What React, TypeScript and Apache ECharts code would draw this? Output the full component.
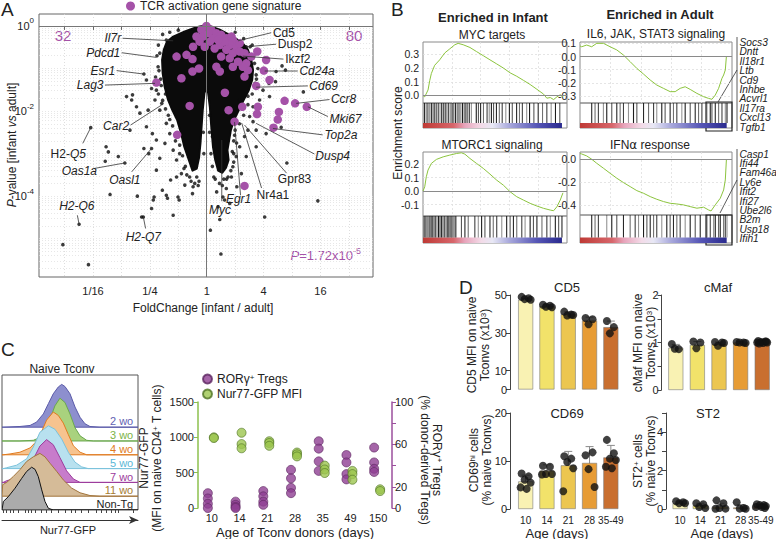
import React, { useEffect, useRef } from 'react';
import * as echarts from 'echarts';

const FONT = '"Liberation Sans", Arial, Helvetica, sans-serif';
const TXT = '#222';
const PURPLE = '#a552a8';

// ---------------- Panel A : volcano (x = log2 fold change, y = log10 P) ----------------
const FC_TICKS = [-5, -4, -3, -2, -1, 0, 1, 2, 3, 4, 5];
const FC_LABEL_VALUES = [-4, -2, 0, 2, 4];
const FC_LABELS = ['1/16', '1/4', '1', '4', '16'];
const P_LABEL_EXPONENTS = [0, -2, -4];

// outline of the dense gene cloud
const CLOUD = [
  [0, 0.02], [0.46, -0.09], [0.92, -0.25], [1.27, -0.41], [1.45, -0.56], [1.57, -0.8], [1.63, -1.04],
  [1.6, -1.27], [1.48, -1.51], [1.3, -1.74], [1.13, -1.98], [0.96, -2.21], [0.85, -2.45], [0.79, -2.68],
  [0.73, -2.92], [0.77, -3.15], [0.68, -3.33], [0.55, -3.45], [0.4, -3.4], [0.3, -3.15], [0.22, -2.84],
  [0.16, -2.37], [0.11, -1.9], [0.05, -1.58], [0, -1.43], [-0.08, -1.58], [-0.14, -1.98], [-0.18, -2.37],
  [-0.22, -2.76], [-0.27, -3.1], [-0.35, -3.35], [-0.5, -3.4], [-0.63, -3.15], [-0.79, -2.84], [-0.9, -2.53],
  [-1.04, -2.21], [-1.21, -1.98], [-1.36, -1.74], [-1.48, -1.43], [-1.55, -1.11], [-1.57, -0.8], [-1.51, -0.56],
  [-1.4, -0.37], [-1.18, -0.25], [-0.77, -0.13], [-0.36, -0.03],
];

const BLACK_POINTS = [
  [-4.08, -2.39], [-5.06, -5.14], [-4.16, -5.61], [-4.49, -4.66], [-3.4, -3.96], [-3.54, -2.84], [-3.46, -2.96],
  [-3.57, -3.18], [-3.11, -3.07], [-2.88, -3.22], [-2.7, -2.45], [-2.82, -1.66], [-2.61, -1.62], [-2.64, -1.74],
  [-2.44, -4.0], [-2.23, -4.49], [-2.29, -4.49], [-2.21, -1.13], [-2.21, -2.88], [-2.04, -3.0], [-1.94, -2.88],
  [-1.88, -4.09], [-1.85, -4.02], [-1.94, -4.29], [-1.56, -3.86], [-1.42, -3.98], [-1.38, -4.05], [-1.18, -4.45],
  [-1.01, -4.02], [-0.97, -4.09], [-0.5, -3.94], [-0.48, -3.78], [-0.27, -3.65], [-1.77, -3.39], [-1.65, -3.11],
  [-1.47, -2.76], [-1.77, -2.68], [-1.91, -2.53], [-2.12, -2.37], [-1.58, -1.82], [-1.65, -1.98], [-1.82, -1.74],
  [-1.77, -1.51], [-1.94, -1.47], [-2.12, -1.27], [-1.42, -2.29], [-1.3, -2.53], [-1.18, -2.92], [-1.06, -3.15],
  [-0.89, -3.47], [-1.06, -3.55], [-1.27, -3.62], [-0.77, -3.74], [-2.06, -1.98], [-2.47, -1.9], [-2.35, -2.05],
  [-0.6, -3.55], [-0.35, -3.55], [-0.42, -3.7], [-0.75, -3.3], [-0.95, -3.0], [-1.1, -2.7], [-1.3, -2.2],
  [0.13, -4.8], [0.46, -4.55], [0.5, -5.36], [2.04, -4.49], [3.91, -4.11], [2.82, -3.22], [2.62, -2.38],
  [3.4, -1.55], [2.77, -1.04], [2.65, -0.94], [2.44, -1.07], [1.39, -0.49], [2.19, -1.35], [1.98, -1.51],
  [1.86, -1.74], [1.63, -1.9], [1.51, -2.13], [1.63, -2.25], [1.45, -2.45], [1.33, -2.6], [1.16, -2.84],
  [1.04, -3.07], [0.92, -3.31], [0.87, -3.55], [0.69, -3.82], [0.63, -4.09], [0.57, -4.02], [1.06, -3.78],
  [1.22, -3.47], [1.39, -3.07], [2.09, -2.53], [1.74, -2.84], [0.81, -4.17], [0.4, -4.25], [0.98, -2.57],
  [2.21, -1.66], [2.42, -1.31], [1.74, -2.45], [0.3, -3.6], [0.45, -3.7], [0.6, -3.6], [0.95, -3.0],
  [1.05, -2.75], [0.2, -3.3], [0.35, -3.9], [0.75, -3.55],
  [-1.65, -0.64], [-1.71, -0.96], [-1.42, -0.33], [1.68, -0.88], [1.74, -1.15], [1.53, -0.49], [1.16, -1.74],
  [-1.62, -1.25], [-1.45, -1.6], [1.7, -1.35], [1.45, -1.65], [1.25, -1.9],
  [-1.7, -0.45], [-1.75, -0.7], [-1.68, -1.05], [-1.8, -1.2], [-1.6, -1.4], [-1.7, -1.6], [-1.55, -1.75],
  [-1.45, -1.95], [-1.35, -2.1], [-1.2, -2.35], [-1.05, -2.6], [-0.95, -2.8], [-0.85, -3.05], [-0.8, -3.35],
  [-0.7, -3.5], [-0.55, -3.65], [-0.3, -3.75], [-1.55, -0.2], [-1.3, -0.15], [-1.0, -0.1],
  [1.0, -0.15], [1.3, -0.3], [1.6, -0.45], [1.72, -0.65], [1.8, -1.0], [1.75, -1.25], [1.6, -1.6],
  [1.45, -1.85], [1.3, -2.1], [1.15, -2.3], [1.0, -2.45], [0.95, -2.7], [0.9, -2.95], [0.95, -3.2],
  [0.85, -3.4], [0.7, -3.6], [0.55, -3.75], [0.25, -3.55], [0.15, -3.0], [0.1, -2.5],
  [0.1, -2.1], [-0.12, -2.5], [-0.1, -3.0], [0.2, -2.6],
];

const TCR_POINTS = [
  [-0.01, 0], [-0.19, -0.09], [0.16, -0.09], [0.34, -0.17], [-0.36, -0.25], [-0.13, -0.25], [0.22, -0.29],
  [0.51, -0.21], [0.69, -0.29], [0.92, -0.33], [0.81, -0.45], [1.04, -0.49], [0.46, -0.45], [0.69, -0.56],
  [0.92, -0.64], [1.16, -0.6], [1.33, -0.64], [1.39, -0.88], [1.45, -1.04], [1.33, -1.19], [1.27, -0.96],
  [1.1, -0.84], [0.81, -0.76], [0.51, -0.72], [0.34, -0.96], [0.46, -1.07], [0.92, -0.96], [-0.48, -0.49],
  [-0.71, -0.68], [-1.06, -0.72], [-0.5, -0.78], [-0.27, -1.0], [-0.5, -1.07], [-0.89, -1.23], [-1.77, -1.33],
  [1.78, -0.6], [1.57, -0.72], [2.09, -0.8], [2.01, -1.05], [2.21, -1.27], [1.74, -1.41], [2.74, -1.76],
  [3.11, -1.82], [3.52, -1.9], [2.5, -2.2], [1.8, -1.9], [1.77, -2.07], [1.25, -1.9], [0.77, -1.98],
  [0.64, -1.57], [0.98, -2.25], [-0.6, -1.88], [-1.04, -2.56], [1.33, -3.76], [2.35, -2.39], [2.54, -2.02],
  [0.05, -0.17], [-0.25, -0.37], [0.11, -0.37], [-0.07, -0.49], [0.28, -0.53], [0.63, -0.37], [1.16, -0.41],
  [0.87, -0.25], [0.4, -0.33],
];

// gene annotations: point (x,y), leader end (lx,ly), text anchor (tx,ty), alignment
const GENE_LABELS = [
  { t: '{i|Il7r}', x: -1.18, y: -0.35, lx: -2.96, ly: -0.29, tx: -3.01, ty: -0.29, a: 'right' },
  { t: '{i|Pdcd1}', x: -1.77, y: -0.74, lx: -2.99, ly: -0.63, tx: -3.04, ty: -0.63, a: 'right' },
  { t: '{i|Esr1}', x: -2.23, y: -1.13, lx: -3.17, ly: -1.05, tx: -3.22, ty: -1.05, a: 'right' },
  { t: '{i|Lag3}', x: -1.82, y: -1.35, lx: -3.58, ly: -1.39, tx: -3.63, ty: -1.39, a: 'right' },
  { t: '{i|Car2}', x: -1.59, y: -1.86, lx: -2.68, ly: -2.33, tx: -2.73, ty: -2.35, a: 'right' },
  { t: '{n|H2-}{i|Q5}', x: -4.08, y: -2.39, lx: -4.36, ly: -2.76, tx: -4.87, ty: -3.0, a: 'center' },
  { t: '{i|Oas1a}', x: -2.88, y: -3.22, lx: -3.96, ly: -3.35, tx: -4.48, ty: -3.4, a: 'center' },
  { t: '{i|Oasl1}', x: -1.94, y: -2.88, lx: -2.64, ly: -3.43, tx: -2.88, ty: -3.62, a: 'center' },
  { t: '{i|H2-Q6}', x: -4.49, y: -4.66, lx: -4.55, ly: -4.45, tx: -4.57, ty: -4.23, a: 'center' },
  { t: '{i|H2-Q7}', x: -2.23, y: -4.49, lx: -2.15, ly: -4.76, tx: -2.23, ty: -4.96, a: 'center' },
  { t: '{n|Cd5}', x: 1.1, y: -0.35, lx: 2.27, ly: -0.16, tx: 2.33, ty: -0.16, a: 'left' },
  { t: '{n|Dusp2}', x: 1.39, y: -0.49, lx: 2.44, ly: -0.43, tx: 2.5, ty: -0.43, a: 'left' },
  { t: '{n|Ikzf2}', x: 1.27, y: -0.71, lx: 2.7, ly: -0.78, tx: 2.76, ty: -0.78, a: 'left' },
  { t: '{i|Cd24a}', x: 2.04, y: -1.06, lx: 3.2, ly: -1.06, tx: 3.26, ty: -1.07, a: 'left' },
  { t: '{i|Cd69}', x: 1.74, y: -1.44, lx: 3.56, ly: -1.41, tx: 3.61, ty: -1.41, a: 'left' },
  { t: '{i|Ccr8}', x: 3.15, y: -1.82, lx: 4.32, ly: -1.73, tx: 4.37, ty: -1.72, a: 'left' },
  { t: '{i|Mki67}', x: 3.56, y: -1.9, lx: 4.26, ly: -2.13, tx: 4.32, ty: -2.19, a: 'left' },
  { t: '{i|Top2a}', x: 2.33, y: -2.41, lx: 4.08, ly: -2.56, tx: 4.14, ty: -2.56, a: 'left' },
  { t: '{i|Dusp4}', x: 1.74, y: -2.29, lx: 3.79, ly: -3.01, tx: 3.82, ty: -3.06, a: 'left' },
  { t: '{n|Gpr83}', x: 1.33, y: -2.33, lx: 2.81, ly: -3.46, tx: 3.09, ty: -3.6, a: 'center' },
  { t: '{n|Nr4a1}', x: 1.23, y: -2.28, lx: 1.93, ly: -3.81, tx: 2.33, ty: -3.98, a: 'center' },
  { t: '{i|Egr1}', x: 0.98, y: -2.26, lx: 1.19, ly: -3.98, tx: 1.12, ty: -4.07, a: 'center' },
  { t: '{i|Myc}', x: 0.53, y: -2.68, lx: 0.53, ly: -4.12, tx: 0.47, ty: -4.33, a: 'center' },
];

// ---------------- Panel B : GSEA ----------------
const MYC_ES = [[0, 0], [1.2, -0.01], [3.5, 0.04], [4.7, 0.11], [5.8, 0.16], [8.1, 0.22], [11.6, 0.26], [15.1, 0.31],
  [18.6, 0.34], [22.1, 0.37], [24.4, 0.38], [27.9, 0.37], [32.6, 0.35], [37.2, 0.32], [41.9, 0.29], [46.5, 0.26],
  [51.2, 0.23], [55.8, 0.2], [60.5, 0.165], [65.1, 0.14], [69.8, 0.11], [74.4, 0.08], [79.1, 0.045], [83.7, 0.01],
  [86, -0.02], [88.4, -0.015], [90.7, -0.03], [93, -0.01], [95.3, 0.005], [97.2, -0.01]];
const MYC_HITS = [1, 2.2, 3.4, 4.6, 5.8, 7, 8.2, 9.4, 10.6, 11.8, 13, 14.2, 15.4, 16.6, 17.8, 19, 20.2, 21.4, 22.6,
  23.8, 25, 26.2, 27.4, 28.6, 29.8, 31, 32.2, 33.6, 37, 38.5, 40, 42, 44.5, 46, 47.5, 49, 51, 53, 55, 57.5, 60, 62,
  65, 67, 69, 72, 74, 77, 80, 83, 86, 89, 92, 95];

const IL6_ES = [[0, 0.08], [1.1, 0.074], [4.4, 0.087], [7.7, 0.074], [11, 0.1], [15.4, 0.1], [19.8, 0.074], [24.2, 0.05],
  [28.6, 0.011], [33, -0.039], [37.4, -0.09], [41.8, -0.133], [46.2, -0.178], [50.5, -0.216], [54.9, -0.241],
  [59.3, -0.266], [62.6, -0.266], [65.9, -0.241], [69.2, -0.229], [72.5, -0.249], [76.9, -0.279], [81.3, -0.304],
  [84.6, -0.317], [86.8, -0.324], [89, -0.292], [91.2, -0.241], [93.4, -0.165], [94.5, -0.14], [95.6, -0.102], [96.3, 0]];
const IL6_HITS = [7.7, 9.9, 12.1, 15.4, 17.6, 20.9, 24.2, 26.4, 28.6, 31.9, 35.2, 37.4, 41.8, 45.1, 48.4, 50.5, 53.8,
  56, 59.3, 61.5, 63.7, 67, 69.2, 72.5, 75.8, 78, 80.2, 83.5, 85.7, 86.8, 89, 91.2, 93.4, 95.6, 96.7];

const MTORC1_ES = [[0, 0], [1.2, 0.032], [2.3, 0.106], [3.5, 0.156], [5.8, 0.205], [9.3, 0.235], [14, 0.254],
  [18.6, 0.267], [23.3, 0.279], [26.7, 0.284], [29.1, 0.274], [32.6, 0.242], [37.2, 0.205], [41.9, 0.168],
  [46.5, 0.126], [51.2, 0.081], [55.8, 0.044], [60.5, -0.005], [65.1, -0.042], [69.8, -0.067], [74.4, -0.091],
  [79.1, -0.111], [83.7, -0.128], [88.4, -0.141], [90.7, -0.146], [93, -0.116], [95.3, -0.067], [97.2, -0.013]];
const MTORC1_HITS = [0.8, 1.8, 2.8, 3.8, 4.8, 5.8, 6.8, 7.8, 8.8, 9.8, 10.8, 11.8, 12.8, 13.8, 14.8, 15.8, 16.8, 17.8,
  18.8, 19.8, 20.8, 21.8, 22.8, 26.7, 29.1, 31.4, 36, 38.4, 40.7, 43, 46.5, 48.8, 51.2, 54.7, 58.1, 60.5, 62.8, 65.1,
  68.6, 70.9, 74.4, 76.7, 79.1, 82.6, 86, 88.4, 91.9, 94.2, 96.5];

const IFN_ES = [[0, 0.05], [1.1, 0.046], [4.4, 0.029], [7.7, 0], [11, -0.035], [15.4, -0.078], [19.8, -0.122],
  [24.2, -0.165], [28.6, -0.203], [33, -0.238], [37.4, -0.273], [41.8, -0.296], [46.2, -0.325], [50.5, -0.348],
  [54.9, -0.368], [59.3, -0.383], [63.7, -0.389], [68.1, -0.397], [72.5, -0.412], [76.9, -0.426], [81.3, -0.417],
  [84.6, -0.441], [86.2, -0.45], [89, -0.397], [92.3, -0.339], [94.5, -0.267], [95.6, -0.18], [96.3, -0.006]];
const IFN_HITS = [7.7, 9.9, 12.1, 17.6, 20.9, 24.2, 28.6, 33, 36.3, 38.5, 41.8, 44, 46.2, 48.4, 50.5, 53.8, 57.1,
  59.3, 61.5, 63.7, 65.9, 69.2, 72.5, 75.8, 79.1, 83.5, 85.7, 87.9, 89, 91.2, 92.3, 94.5, 95.6, 96.7];

const IL6_GENES = ['Socs3', 'Dntt', 'Il18r1', 'Ltb', 'Cd9', 'Inhbe', 'Acvrl1', 'Il17ra', 'Cxcl13', 'Tgfb1'];
const IFN_GENES = ['Casp1', 'Ifi44', 'Fam46a', 'Ly6e', 'Ifit2', 'Ifi27', 'Ube2l6', 'B2m', 'Usp18', 'Ifih1'];

// ---------------- Panel C : histograms ----------------
const HIST_NAMES = ['2 wo', '3 wo', '4 wo', '5 wo', '7 wo', '11 wo', 'Non-Tg'];
const HIST_FILL = ['#8d8fce', '#a9d27e', '#f6c38f', '#b8e1ef', '#c77ccb', '#d5bb98', '#ababab'];
const HIST_LINE = ['#5a5aa8', '#6aa84f', '#e07b20', '#7cc3dc', '#9c3c9c', '#a2753c', '#111111'];
const HIST_LABEL = ['#6262b3', '#7bb347', '#e07b20', '#5bb8d6', '#9c3b9c', '#a67c30', '#222222'];
const HIST_OFFSET = [6, 5, 4, 3, 2, 1, 0];
const HIST_CURVES = [
  [[1, 0], [13.2, 0.016], [20.6, 0.04], [25.5, 0.12], [30.4, 0.31], [34.1, 0.55], [37.7, 0.78], [41.4, 0.94], [43.9, 1], [46.3, 0.95], [50, 0.78], [53.7, 0.47], [57.4, 0.23], [61, 0.08], [64.7, 0.016], [72, 0]],
  [[13.2, 0], [23, 0.016], [27.9, 0.08], [31.6, 0.23], [35.3, 0.51], [38.9, 0.82], [42.6, 1], [46.3, 0.9], [50, 0.63], [53.7, 0.31], [57.4, 0.12], [62.3, 0.016], [67.2, 0]],
  [[1, 0], [5.9, 0.02], [13.2, 0.06], [20.6, 0.16], [25.5, 0.32], [29.2, 0.55], [32.8, 0.81], [37.7, 1], [41.4, 0.92], [45.1, 0.74], [48.8, 0.47], [52.5, 0.21], [57.4, 0.06], [62.3, 0]],
  [[1, 0], [3.4, 0.02], [10.8, 0.08], [18.1, 0.23], [23, 0.5], [27.9, 0.85], [34.1, 1], [38.9, 0.92], [43.9, 0.69], [48.8, 0.38], [53.7, 0.15], [58.6, 0.04], [63.4, 0]],
  [[1, 0], [3.4, 0.04], [10.8, 0.1], [18.1, 0.27], [23, 0.54], [27.9, 0.85], [32.8, 1], [37.7, 0.88], [42.6, 0.58], [47.5, 0.27], [52.5, 0.08], [57.4, 0]],
  [[0, 0], [0.5, 0.27], [3.4, 0.32], [8.3, 0.46], [13.2, 0.62], [18.1, 0.81], [23, 0.92], [27.9, 1], [31.6, 0.92], [35.3, 0.77], [40.2, 0.58], [45.1, 0.38], [51.2, 0.19], [57.4, 0.08], [64.7, 0.015], [72, 0]],
  [[0, 0], [1, 0.2], [4.6, 0.31], [9.6, 0.51], [14.5, 0.74], [18.1, 0.9], [21.8, 1], [24.3, 0.95], [26.7, 0.78], [29.2, 0.47], [31.6, 0.2], [34.1, 0.04], [37.7, 0]],
];
const HIST_TICKS = [1, 3.4, 5.9, 8.3, 12, 16.9, 19.4, 21.8, 24.3, 29.2, 32.8, 36.5, 41.4, 46.3, 51.2, 53.7, 58.6, 63.4, 69.6, 73.3, 76.9, 80.6, 83.1, 85.5, 96.6];

// ---------------- Panel C : Nur77 / RORg scatter ----------------
const DONOR_AGES = ['10', '14', '21', '28', '35', '49', '150'];
const ROR_VALUES = [[14, 9, 4, 0], [6, 3, 1, 0], [16, 11, 6, 3], [36, 28, 19, 14], [63, 56, 44, 35], [50, 43, 32, 27], [57, 43, 37, 34]];
const NUR_VALUES = [[1000, 990], [1065, 905, 845], [945, 920, 880], [785, 760, 730], [600, 545, 495], [525, 480, 400], [265, 240]];

// ---------------- Panel D : bars ----------------
const AGE_CATS = ['10', '14', '21', '28', '35-49'];
const BAR_COLORS = ['#f9f2b3', '#f2e26a', '#ecc650', '#e79c35', '#c96f2f'];
const CD5_MEAN = [47.5, 44.1, 39.9, 36.5, 33.0];
const CD5_SD = [0.7, 0.6, 1.2, 1.8, 3.2];
const CD5_PTS = [[49, 48.3, 47.8, 47.5], [44.8, 44.3, 43.8, 43.5], [41.2, 39.6, 39.2, 39.4], [37.8, 37.2, 34.5], [36.2, 33, 29.7]];
const CMAF_MEAN = [0.89, 0.95, 0.97, 1.0, 1.01];
const CMAF_SD = [0.07, 0.07, 0.04, 0.02, 0.03];
const CMAF_PTS = [[0.97, 0.86, 0.87], [1.02, 1.0, 0.88], [1.01, 1.0, 0.93, 0.99], [1.01, 1.0, 1.0, 0.99], [1.03, 1.02, 1.01, 1.0, 1.0, 0.99, 1.02, 0.98]];
const CD69_MEAN = [5.75, 8.0, 9.1, 9.6, 10.75];
const CD69_SD = [1.3, 1.2, 2.9, 3.4, 2.5];
const CD69_PTS = [[7.4, 6.8, 6.1, 5.5, 4.5, 4.2], [9.0, 8.8, 7.3, 7.3, 7.2], [11, 10.5, 9.8, 8.5, 3.7], [11.2, 11.8, 8.3, 4.6], [14.4, 11.6, 10.5, 10.2, 8.8, 8.5]];
const ST2_MEAN = [0.3, 0.2, 0.12, 0.08, 0.15];
const ST2_SD = [0.06, 0.1, 0.18, 0.14, 0.07];
const ST2_PTS = [[0.4, 0.35, 0.3, 0.3], [0.3, 0.25, 0.1, 0.05], [0.45, 0.3, 0.05, 0.02, 0.01], [0.35, 0.05, 0.02, 0.01], [0.25, 0.2, 0.2, 0.15, 0.1, 0.1, 0.05]];
const JITTER = [-4, 3, -1, 5, -5, 1, 4, -3];

function buildOption() {
  const grids: any[] = [];
  const xAxes: any[] = [];
  const yAxes: any[] = [];
  const series: any[] = [];
  const graphic: any[] = [];
  const addGrid = (g: any) => { grids.push({ containLabel: false, ...g }); return grids.length - 1; };
  const addX = (a: any) => { xAxes.push(a); return xAxes.length - 1; };
  const addY = (a: any) => { yAxes.push(a); return yAxes.length - 1; };
  const lab = (o: any = {}) => ({ fontSize: 11, color: TXT, fontFamily: FONT, ...o });

  const text = (t: string, x: number, y: number, o: any = {}) => {
    const { rotation, ...st } = o;
    return {
      type: 'text', x, y, rotation: rotation || 0, silent: true,
      style: { text: t, fill: TXT, fontSize: 12, fontFamily: FONT, align: 'center', verticalAlign: 'middle', ...st },
    };
  };
  const gline = (x1: number, y1: number, x2: number, y2: number, stroke = '#333', lw = 0.8) => ({
    type: 'line', silent: true, shape: { x1, y1, x2, y2 }, style: { stroke, lineWidth: lw },
  });

  // ===== Panel A =====
  const pGrid: number[] = [];
  for (let e = 0; e >= -6; e--) for (let k = 1; k <= 9; k++) {
    const v = e + Math.log10(k);
    if (v <= 0.28 && v >= -5.9) pGrid.push(v);
  }
  const gA = addGrid({ left: 39, top: 14, width: 334, height: 263, show: true, borderColor: '#666', borderWidth: 1 });
  const xA = addX({
    type: 'value', gridIndex: gA, min: -5.9, max: 5.85, axisLine: { show: false },
    axisTick: { show: true, customValues: FC_TICKS, length: 4, lineStyle: { color: '#666' } },
    axisLabel: lab({ customValues: FC_LABEL_VALUES, margin: 8, formatter: (v: number) => FC_LABELS[FC_LABEL_VALUES.indexOf(Math.round(v))] }),
    splitLine: { show: true, lineStyle: { color: '#d6d6d6', type: [1, 2], width: 0.8 } },
  });
  const yA = addY({
    type: 'value', gridIndex: gA, min: -5.9, max: 0.28, axisLine: { show: false },
    axisTick: { show: false, customValues: pGrid },
    axisLabel: lab({
      customValues: P_LABEL_EXPONENTS, margin: 5,
      formatter: (v: number) => `{b|10}{s|${Math.round(v)}}`,
      rich: { b: { fontSize: 11, lineHeight: 18, fontFamily: FONT, color: TXT }, s: { fontSize: 8, lineHeight: 9, verticalAlign: 'top', fontFamily: FONT, color: TXT } },
    }),
    splitLine: { show: true, lineStyle: { color: '#dcdcdc', type: [1, 2], width: 0.7 } },
  });
  series.push({
    type: 'custom', xAxisIndex: xA, yAxisIndex: yA, silent: true, clip: true, data: [[0, 0]],
    renderItem: (_p: any, api: any) => ({
      type: 'polygon', shape: { points: CLOUD.map((c) => api.coord(c)) }, style: { fill: '#0b0b0b', stroke: '#0b0b0b', lineWidth: 2, lineJoin: 'round' },
    }),
    markLine: {
      silent: true, symbol: 'none', label: { show: false }, animation: false,
      lineStyle: { color: '#777', type: 'solid', width: 1 }, data: [{ xAxis: 0 }, { yAxis: 0 }],
    },
    z: 2,
  });
  series.push({
    type: 'scatter', name: 'black', xAxisIndex: xA, yAxisIndex: yA, data: BLACK_POINTS, symbolSize: 3.6,
    itemStyle: { color: '#0b0b0b' }, silent: true, z: 3,
  });
  series.push({
    type: 'scatter', name: 'TCR activation gene signature', xAxisIndex: xA, yAxisIndex: yA, data: TCR_POINTS,
    symbolSize: 8.5, itemStyle: { color: PURPLE, opacity: 1 }, silent: true, z: 4,
  });
  series.push({
    type: 'custom', xAxisIndex: xA, yAxisIndex: yA, silent: true, clip: false, z: 5,
    data: GENE_LABELS.map((g) => [g.x, g.y]),
    renderItem: (params: any, api: any) => {
      const g = GENE_LABELS[params.dataIndex];
      const p = api.coord([g.x, g.y]);
      const l = api.coord([g.lx, g.ly]);
      const t = api.coord([g.tx, g.ty]);
      return {
        type: 'group', children: [
          { type: 'line', shape: { x1: p[0], y1: p[1], x2: l[0], y2: l[1] }, style: { stroke: '#333', lineWidth: 0.8 } },
          {
            type: 'text', x: t[0], y: t[1], style: {
              text: g.t, align: g.a, verticalAlign: 'middle', fill: TXT, fontSize: 12, fontFamily: FONT,
              rich: {
                i: { fontStyle: 'italic', fontSize: 12, fontFamily: FONT, fill: TXT },
                n: { fontSize: 12, fontFamily: FONT, fill: TXT },
              },
            },
          },
        ],
      };
    },
  });
  graphic.push(text('32', 63, 35, { fill: PURPLE, fontSize: 15 }));
  graphic.push(text('80', 354, 35, { fill: PURPLE, fontSize: 15 }));
  graphic.push(text('{i|P}{n|=1.72x10}{s|-5}', 361, 255, {
    align: 'right', fill: PURPLE,
    rich: {
      i: { fontStyle: 'italic', fontSize: 13, fill: PURPLE, fontFamily: FONT, lineHeight: 18 },
      n: { fontSize: 13, fill: PURPLE, fontFamily: FONT, lineHeight: 18 },
      s: { fontSize: 9, fill: PURPLE, fontFamily: FONT, lineHeight: 10, verticalAlign: 'top' },
    },
  }));
  graphic.push(text('{i|P}{n|-value [infant }{i|vs}{n| adult]}', 12, 145, {
    rotation: Math.PI / 2,
    rich: { i: { fontStyle: 'italic', fontSize: 12, fontFamily: FONT, fill: TXT }, n: { fontSize: 12, fontFamily: FONT, fill: TXT } },
  }));
  graphic.push(text('FoldChange [infant / adult]', 203, 308, { fontSize: 12 }));

  // ===== Panel B =====
  const barStops = [
    { offset: 0, color: '#bf3a35' }, { offset: 0.22, color: '#d7666b' }, { offset: 0.3, color: '#e7a4bb' },
    { offset: 0.42, color: '#f3dbe8' }, { offset: 0.5, color: '#e8e8f5' }, { offset: 0.62, color: '#a9a9dc' },
    { offset: 0.82, color: '#5656b6' }, { offset: 1, color: '#2a2a8e' },
  ];
  const gsea = (left: number, top: number, width: number, esH: number, hitH: number, es: number[][], hits: number[],
    yMin: number, yMax: number, yLabels: number[]) => {
    const g1 = addGrid({ left, top, width, height: esH, show: true, borderColor: '#8a8a8a', borderWidth: 1 });
    const xi = addX({
      type: 'value', gridIndex: g1, min: 0, max: 100, axisLine: { show: false },
      axisTick: { show: false, customValues: [20, 40, 60, 80] }, axisLabel: { show: false },
      splitLine: { show: true, lineStyle: { color: '#dedede', type: [2, 2], width: 0.8 } },
    });
    const yi = addY({
      type: 'value', gridIndex: g1, min: yMin, max: yMax, axisLine: { show: false },
      axisTick: { show: false, customValues: yLabels },
      axisLabel: lab({ customValues: yLabels, margin: 4, fontSize: 10.5, formatter: (v: number) => (Math.abs(v) < 1e-9 ? '0.0' : v.toFixed(1)) }),
      splitLine: { show: true, lineStyle: { color: '#dedede', type: [2, 2], width: 0.8 } },
    });
    series.push({
      type: 'line', xAxisIndex: xi, yAxisIndex: yi, data: es, symbol: 'none', silent: true,
      lineStyle: { color: '#8cc43e', width: 1 },
      markLine: { silent: true, symbol: 'none', label: { show: false }, lineStyle: { color: '#8a8a8a', type: 'solid', width: 1 }, data: [{ yAxis: 0 }] },
    });
    const g2 = addGrid({ left, top: top + esH, width, height: hitH, show: true, borderColor: '#8a8a8a', borderWidth: 1 });
    const xh = addX({ type: 'value', gridIndex: g2, min: 0, max: 100, show: false });
    const yh = addY({ type: 'value', gridIndex: g2, min: 0, max: 1, show: false });
    series.push({
      type: 'custom', xAxisIndex: xh, yAxisIndex: yh, silent: true, data: [[0, 0]],
      renderItem: (_p: any, api: any) => {
        const a = api.coord([0, 0.2]);
        const b = api.coord([96.5, 0]);
        return {
          type: 'rect', shape: { x: a[0], y: a[1], width: b[0] - a[0], height: b[1] - a[1] },
          style: { fill: { type: 'linear', x: 0, y: 0, x2: 1, y2: 0, colorStops: barStops } },
        };
      },
    });
    series.push({
      type: 'custom', xAxisIndex: xh, yAxisIndex: yh, silent: true, data: hits.map((h) => [h, 0]),
      renderItem: (params: any, api: any) => {
        const t = api.coord([api.value(0), 1]);
        const b = api.coord([api.value(0), 0.2]);
        const op = [0.9, 0.6, 0.8, 0.45, 0.95, 0.7][params.dataIndex % 6];
        return { type: 'line', shape: { x1: t[0], y1: t[1], x2: b[0], y2: b[1] }, style: { stroke: '#111', lineWidth: 1.1, opacity: op } };
      },
    });
  };
  gsea(423, 42, 144, 61, 25, MYC_ES, MYC_HITS, -0.055, 0.39, [0, 0.1, 0.2, 0.3]);
  gsea(580, 42, 152, 61, 25, IL6_ES, IL6_HITS, -0.352, 0.11, [-0.3, -0.2, -0.1, 0, 0.1]);
  gsea(423, 152, 144, 64, 27, MTORC1_ES, MTORC1_HITS, -0.185, 0.29, [-0.1, 0, 0.1, 0.2]);
  gsea(580, 152, 152, 63, 28, IFN_ES, IFN_HITS, -0.485, 0.063, [-0.4, -0.2, 0]);

  graphic.push(text('Enriched in Infant', 493, 17, { fontWeight: 'bold', fontSize: 13 }));
  graphic.push(text('Enriched in Adult', 660, 14, { fontWeight: 'bold', fontSize: 13 }));
  graphic.push(text('MYC targets', 492, 35, { fontSize: 12 }));
  graphic.push(text('IL6, JAK, STAT3 signaling', 656, 34, { fontSize: 12 }));
  graphic.push(text('MTORC1 signaling', 492, 145, { fontSize: 12 }));
  graphic.push(text('IFN{g|α} response', 650, 145, { fontSize: 12, rich: { g: { fontSize: 12, fontFamily: 'DejaVu Sans', fill: TXT } } }));
  graphic.push(text('Enrichment score', 398, 133, { fontSize: 12, rotation: Math.PI / 2 }));
  graphic.push(text(IL6_GENES.join('\n'), 739.5, 37.5, { align: 'left', verticalAlign: 'top', fontStyle: 'italic', fontSize: 10.2, lineHeight: 9.45 }));
  graphic.push(text(IFN_GENES.join('\n'), 739.5, 149.5, { align: 'left', verticalAlign: 'top', fontStyle: 'italic', fontSize: 10.2, lineHeight: 9.37 }));
  graphic.push(gline(737, 37, 737, 131, '#333', 0.8));
  graphic.push(gline(737, 149, 737, 243, '#333', 0.8));
  graphic.push({ type: 'rect', silent: true, shape: { x: 706, y: 102, width: 26, height: 29 }, style: { fill: 'none', stroke: '#222', lineWidth: 1.2 } });
  graphic.push({ type: 'rect', silent: true, shape: { x: 706, y: 215, width: 26, height: 30 }, style: { fill: 'none', stroke: '#222', lineWidth: 1.2 } });
  graphic.push(gline(718, 102, 737, 70, '#333', 0.8));
  graphic.push(gline(720, 213, 737, 180, '#333', 0.8));

  // ===== Panel C : histograms =====
  const PEAK = 3.1;
  const gH = addGrid({ left: 2, top: 375, width: 136, height: 135, show: true, borderColor: '#555', borderWidth: 1 });
  const xH = addX({
    type: 'value', gridIndex: gH, min: 0, max: 100, axisLine: { show: false },
    axisTick: { show: true, customValues: HIST_TICKS, length: 3, lineStyle: { color: '#444' } },
    axisLabel: { show: false }, splitLine: { show: false },
  });
  addX({
    type: 'value', gridIndex: gH, min: 0, max: 100, position: 'bottom', offset: 10,
    axisLine: { show: true, symbol: ['none', 'arrow'], symbolSize: [6, 9], lineStyle: { color: '#333', width: 1 } },
    axisTick: { show: false }, axisLabel: { show: false }, splitLine: { show: false },
  });
  const yH = addY({ type: 'value', gridIndex: gH, min: 0, max: 9.78, show: false });
  series.push({
    type: 'custom', xAxisIndex: xH, yAxisIndex: yH, silent: true, clip: true,
    data: HIST_NAMES.map((_n, i) => [0, HIST_OFFSET[i]]),
    renderItem: (params: any, api: any) => {
      const i = params.dataIndex;
      const off = HIST_OFFSET[i];
      const pts = [api.coord([0, off])]
        .concat(HIST_CURVES[i].map((c) => api.coord([c[0], off + c[1] * PEAK])))
        .concat([api.coord([100, off])]);
      const lp = api.coord([96.5, off + 0.42]);
      return {
        type: 'group', children: [
          { type: 'polygon', shape: { points: pts }, style: { fill: HIST_FILL[i], stroke: HIST_LINE[i], lineWidth: 1 } },
          { type: 'text', x: lp[0], y: lp[1], style: { text: HIST_NAMES[i], align: 'right', verticalAlign: 'middle', fill: HIST_LABEL[i], fontSize: 11, fontFamily: FONT } },
        ],
      };
    },
  });
  graphic.push(text('Naive Tconv', 62, 369, { fontSize: 12 }));
  graphic.push(text('Nur77-GFP', 68, 530, { fontSize: 11 }));

  // ===== Panel C : scatter =====
  const gS = addGrid({ left: 198, top: 402, width: 194, height: 106 });
  const xS = addX({
    type: 'category', gridIndex: gS, data: DONOR_AGES, axisLine: { show: false }, axisTick: { show: false },
    axisLabel: lab({ fontSize: 11, margin: 4, interval: 0 }),
  });
  const yL = addY({
    type: 'value', gridIndex: gS, min: 0, max: 1500, interval: 500, position: 'left',
    axisLine: { show: true, lineStyle: { color: '#8dc04e', width: 1.5 } },
    axisTick: { show: true, length: 4, lineStyle: { color: '#8dc04e' } },
    axisLabel: lab({ margin: 4, formatter: (v: number) => String(v) }), splitLine: { show: false },
  });
  const yR = addY({
    type: 'value', gridIndex: gS, min: 0, max: 100, position: 'right',
    axisLine: { show: true, lineStyle: { color: '#9b4f9d', width: 1.5 } },
    axisTick: { show: true, customValues: [0, 20, 40, 60, 80, 100], length: 4, lineStyle: { color: '#9b4f9d' } },
    axisLabel: lab({ customValues: [0, 20, 60, 100], margin: 3 }), splitLine: { show: false },
  });
  series.push({
    type: 'scatter', name: 'RORγ+ Tregs', xAxisIndex: xS, yAxisIndex: yR, symbolSize: 9, symbolOffset: [-4, 0],
    data: ROR_VALUES.flatMap((vs, i) => vs.map((v) => [i, v])),
    itemStyle: { color: '#8e3f92', borderColor: '#5d2760', borderWidth: 0.8 }, silent: true,
  });
  series.push({
    type: 'scatter', name: 'Nur77-GFP MFI', xAxisIndex: xS, yAxisIndex: yL, symbolSize: 9, symbolOffset: [2, 0],
    data: NUR_VALUES.flatMap((vs, i) => vs.map((v) => [i, v])),
    itemStyle: { color: '#9cc54f', borderColor: '#4f7324', borderWidth: 0.8 }, silent: true,
  });
  graphic.push(text('Nur77-GFP', 144, 458, { rotation: Math.PI / 2, fontSize: 12 }));
  graphic.push(text('(MFI on naive CD4{s|+} T cells)', 157, 458, {
    rotation: Math.PI / 2, fontSize: 12,
    rich: { s: { fontSize: 8, verticalAlign: 'top', lineHeight: 9, fontFamily: FONT, fill: TXT } },
  }));
  graphic.push(text('ROR{g|γ}{s|+} Tregs', 437, 460, {
    rotation: -Math.PI / 2, fontSize: 12,
    rich: { s: { fontSize: 8, verticalAlign: 'top', lineHeight: 9, fontFamily: FONT, fill: TXT }, g: { fontSize: 12, fontFamily: 'DejaVu Sans', fill: TXT } },
  }));
  graphic.push(text('(% donor-derived Tregs)', 425, 460, { rotation: -Math.PI / 2, fontSize: 12 }));
  graphic.push(text('Age of Tconv donors (days)', 295, 532, { fontSize: 13 }));

  // ===== Panel D =====
  const barPanel = (left: number, top: number, width: number, height: number, yMax: number, ticks: number[],
    labels: number[], mean: number[], sd: number[], pts: number[][], showX: boolean, offset: number) => {
    const g = addGrid({ left, top, width, height });
    const xi = addX({
      type: 'category', gridIndex: g, data: AGE_CATS, axisLine: { show: false }, axisTick: { show: false },
      axisLabel: lab({ show: showX, fontSize: 10, margin: 6, interval: 0 }),
    });
    const yi = addY({
      type: 'value', gridIndex: g, min: 0, max: yMax, offset,
      axisLine: { show: true, lineStyle: { color: '#444', width: 1 } },
      axisTick: { show: true, customValues: ticks, length: 4, lineStyle: { color: '#444' } },
      axisLabel: lab({ customValues: labels, margin: 3 }), splitLine: { show: false },
    });
    series.push({
      type: 'bar', xAxisIndex: xi, yAxisIndex: yi, barWidth: 15, silent: true,
      data: mean.map((m, i) => ({ value: m, itemStyle: { color: BAR_COLORS[i], borderColor: '#7a7a7a', borderWidth: 0.6 } })),
    });
    series.push({
      type: 'custom', xAxisIndex: xi, yAxisIndex: yi, silent: true, encode: { x: 0, y: 1 },
      data: mean.map((m, i) => [i, m, sd[i]]),
      renderItem: (_p: any, api: any) => {
        const i = api.value(0); const m = api.value(1); const s = api.value(2);
        const t = api.coord([i, m + s]);
        const b = api.coord([i, Math.max(0, m - s)]);
        return {
          type: 'group', children: [
            { type: 'line', shape: { x1: t[0], y1: t[1], x2: b[0], y2: b[1] }, style: { stroke: '#8a8a8a', lineWidth: 1 } },
            { type: 'line', shape: { x1: t[0] - 4, y1: t[1], x2: t[0] + 4, y2: t[1] }, style: { stroke: '#8a8a8a', lineWidth: 1 } },
          ],
        };
      },
    });
    series.push({
      type: 'scatter', xAxisIndex: xi, yAxisIndex: yi, symbolSize: 8, silent: true,
      itemStyle: { color: '#111' },
      data: pts.flatMap((vs, i) => vs.map((v, j) => ({ value: [i, v], symbolOffset: [JITTER[j % JITTER.length], 0] }))),
    });
  };
  barPanel(515, 295, 106.5, 94.5, 50, [0, 10, 30, 50], [0, 10, 30, 50], CD5_MEAN, CD5_SD, CD5_PTS, false, 5);
  barPanel(665, 295, 108, 95, 2, [0, 0.5, 1, 1.5, 2], [0, 1, 2], CMAF_MEAN, CMAF_SD, CMAF_PTS, false, 3.5);
  barPanel(515, 413, 106.5, 96, 20, [0, 10, 20], [0, 10, 20], CD69_MEAN, CD69_SD, CD69_PTS, true, 5);
  barPanel(670, 413, 107.5, 96, 5, [0, 1, 2, 3, 4, 5], [0, 2, 4], ST2_MEAN, ST2_SD, ST2_PTS, true, 4);

  const supRich = { s: { fontSize: 8, verticalAlign: 'top', lineHeight: 9, fontFamily: FONT, fill: TXT } };
  graphic.push(text('CD5', 567, 287, { fontSize: 13 }));
  graphic.push(text('cMaf', 718, 287, { fontSize: 13 }));
  graphic.push(text('CD69', 567, 413, { fontSize: 13 }));
  graphic.push(text('ST2', 708, 413, { fontSize: 13 }));
  graphic.push(text('CD5 MFI on naive', 472, 345, { rotation: Math.PI / 2, fontSize: 12 }));
  graphic.push(text('Tconvs (x10{s|3})', 485, 345, { rotation: Math.PI / 2, fontSize: 12, rich: supRich }));
  graphic.push(text('cMaf MFI on naive', 638, 343, { rotation: Math.PI / 2, fontSize: 12 }));
  graphic.push(text('Tconvs (x10{s|3})', 651, 343, { rotation: Math.PI / 2, fontSize: 12, rich: supRich }));
  graphic.push(text('CD69{s|hi} cells', 474, 460, { rotation: Math.PI / 2, fontSize: 12, rich: supRich }));
  graphic.push(text('(% naive Tconvs)', 487, 460, { rotation: Math.PI / 2, fontSize: 12 }));
  graphic.push(text('ST2{s|+} cells', 638, 461, { rotation: Math.PI / 2, fontSize: 12, rich: supRich }));
  graphic.push(text('(% naive Tconvs)', 651, 461, { rotation: Math.PI / 2, fontSize: 12 }));
  graphic.push(text('Age (days)', 557, 533, { fontSize: 13 }));
  graphic.push(text('Age (days)', 722, 533, { fontSize: 13 }));

  // panel letters
  graphic.push(text('A', 1, 9, { fontSize: 19, align: 'left' }));
  graphic.push(text('B', 391, 9, { fontSize: 19, align: 'left' }));
  graphic.push(text('C', 1, 349, { fontSize: 19, align: 'left' }));
  graphic.push(text('D', 459, 287, { fontSize: 19, align: 'left' }));

  return {
    animation: false,
    backgroundColor: '#ffffff',
    textStyle: { fontFamily: FONT },
    grid: grids,
    xAxis: xAxes,
    yAxis: yAxes,
    series,
    graphic: { elements: graphic },
    legend: [
      {
        data: ['TCR activation gene signature'], left: 126, top: 0, padding: 0, itemWidth: 9, itemHeight: 9,
        icon: 'circle', selectedMode: false, textStyle: { fontSize: 12, color: TXT, fontFamily: FONT },
      },
      {
        data: ['RORγ+ Tregs', 'Nur77-GFP MFI'], left: 202, top: 373, padding: 0, orient: 'vertical', itemGap: 3,
        itemWidth: 9, itemHeight: 9, icon: 'circle', selectedMode: false,
        formatter: (n: string) => (n === 'RORγ+ Tregs' ? '{n|RORγ}{s|+}{n| Tregs}' : '{n|Nur77-GFP MFI}'),
        textStyle: {
          fontSize: 12, color: TXT, fontFamily: FONT,
          rich: { n: { fontSize: 12, color: TXT, fontFamily: FONT }, s: { fontSize: 8, color: TXT, verticalAlign: 'top', lineHeight: 9 } },
        },
      },
    ],
  };
}

export default function App() {
  const ref = useRef<HTMLDivElement>(null);
  useEffect(() => {
    const chart = echarts.init(ref.current as HTMLDivElement, null, { renderer: 'svg' });
    chart.setOption(buildOption() as any);
    return () => chart.dispose();
  }, []);
  return <div ref={ref} style={{ position: 'absolute', left: 0, top: 0, width: 776, height: 539, background: '#fff' }} />;
}
